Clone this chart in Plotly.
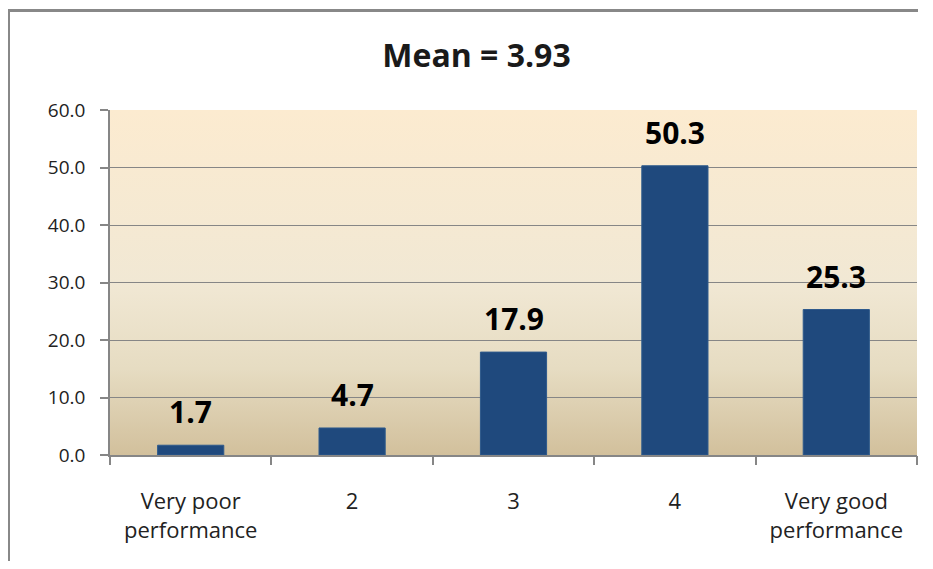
import base64
import plotly.graph_objects as go

categories = ["Very poor<br>performance", "2", "3", "4", "Very good<br>performance"]
values = [1.7, 4.7, 17.9, 50.3, 25.3]
value_labels = ["1.7", "4.7", "17.9", "50.3", "25.3"]
title_text = "Mean = 3.93"
y_ticks = [0, 10, 20, 30, 40, 50, 60]
y_tick_labels = ["0.0", "10.0", "20.0", "30.0", "40.0", "50.0", "60.0"]

# page body has an 8px margin, so the figure is offset by 8px; keep it inside the window
W, H = 910, 553
L, R, T, B = 102, 1, 102, 106
pw, ph = W - L - R, H - T - B

svg = (
    '<svg xmlns="http://www.w3.org/2000/svg" width="100" height="100" '
    'viewBox="0 0 100 100" preserveAspectRatio="none">'
    '<defs><linearGradient id="g" x1="0" y1="0" x2="0" y2="1">'
    '<stop offset="0" stop-color="#FCEBD0"/>'
    '<stop offset="0.5" stop-color="#F1E8D4"/>'
    '<stop offset="0.75" stop-color="#E6DCC2"/>'
    '<stop offset="1" stop-color="#D2C09C"/>'
    '</linearGradient></defs>'
    '<rect x="0" y="0" width="100" height="100" fill="url(#g)"/></svg>'
)
svg_uri = "data:image/svg+xml;base64," + base64.b64encode(svg.encode()).decode()

x_idx = list(range(len(categories)))

fig = go.Figure()
fig.add_trace(go.Bar(
    x=x_idx, y=values, width=0.41,
    marker=dict(color="#1F497D", line=dict(color="#2E5A8C", width=1)),
    hoverinfo="skip",
))

for i, v, lab in zip(x_idx, values, value_labels):
    fig.add_annotation(x=i, y=v, text=f"<b>{lab}</b>", showarrow=False, yanchor="bottom",
                       yshift=11, font=dict(family="Open Sans", size=30, color="#000000"))

# outer border (only top/left visible in reference)
bx0 = (0.5 - L) / pw
by1 = (H - B - 2.5) / ph
fig.add_shape(type="rect", xref="paper", yref="paper", x0=bx0, x1=1.2, y0=-0.5, y1=by1,
              line=dict(color="#888888", width=3), fillcolor="rgba(0,0,0,0)", layer="above")

fig.update_layout(
    width=W, height=H,
    margin=dict(l=L, r=R, t=T, b=B),
    paper_bgcolor="white", plot_bgcolor="rgba(0,0,0,0)",
    showlegend=False,
    title=dict(text=f"<b>{title_text}</b>", x=468.5 / W, xanchor="center",
               y=1 - 48 / H, yanchor="middle",
               font=dict(family="Open Sans", size=32, color="#1a1a1a")),
    images=[dict(source=svg_uri, xref="x domain", yref="y domain", x=0, y=1,
                 sizex=1, sizey=1, xanchor="left", yanchor="top",
                 sizing="stretch", layer="below")],
)
fig.update_xaxes(
    type="linear", range=[-0.5, len(categories) - 0.5],
    tickvals=x_idx, ticktext=categories,
    showgrid=False, showline=True, linecolor="#868686", linewidth=1.5,
    ticks="", tickfont=dict(family="Open Sans", size=22, color="#222222"),
    ticklabelstandoff=26, zeroline=False,
)
# boundary ticks on a companion axis
fig.update_layout(xaxis2=dict(
    overlaying="x", matches="x", side="bottom", anchor="y",
    tickvals=[i - 0.5 for i in range(len(categories) + 1)],
    showticklabels=False, ticks="outside", ticklen=9, tickcolor="#868686", tickwidth=1.5,
    showgrid=False, showline=False, zeroline=False,
))
fig.add_trace(go.Scatter(x=[], y=[], xaxis="x2", showlegend=False))
fig.update_yaxes(
    range=[0, 60], tickvals=y_ticks, ticktext=y_tick_labels,
    showgrid=True, gridcolor="#868686", gridwidth=1,
    showline=True, linecolor="#868686", linewidth=1.5,
    ticks="outside", ticklen=8, tickcolor="#868686", tickwidth=1.5,
    tickfont=dict(family="Open Sans", size=19, color="#222222"),
    ticklabelstandoff=11, zeroline=False,
)

fig.write_html("out.html")
